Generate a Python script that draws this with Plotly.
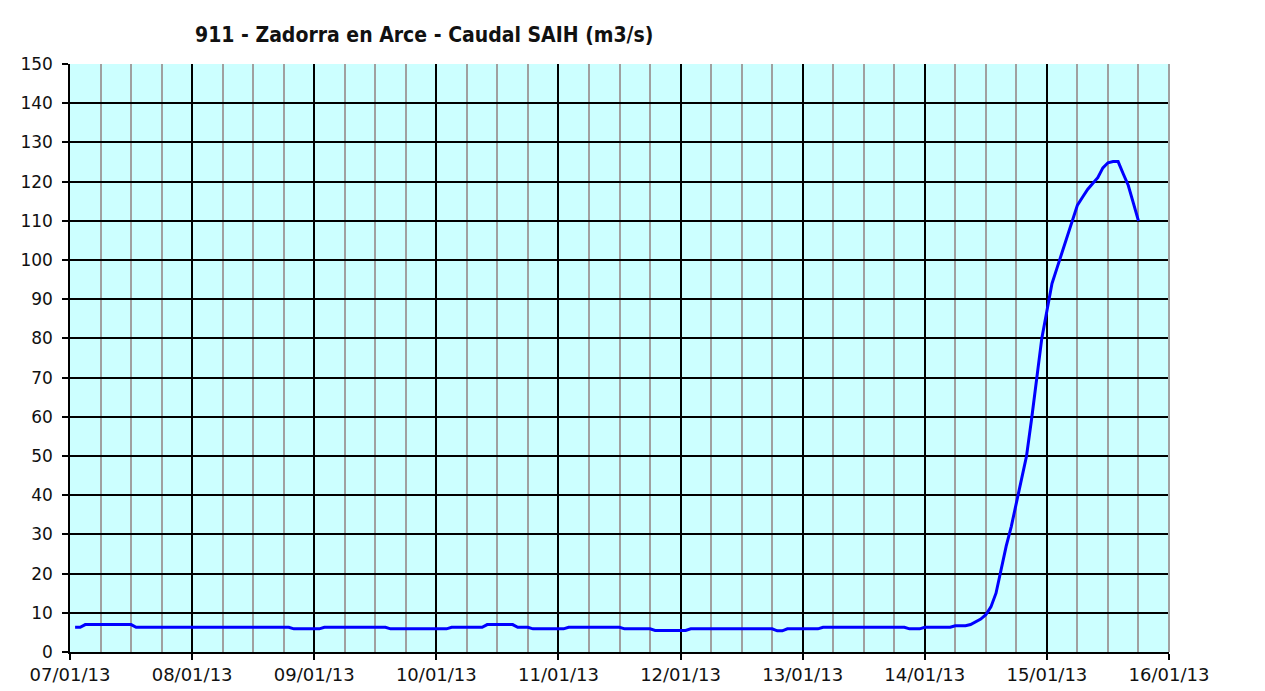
import plotly.graph_objects as go

# Caudal SAIH readings (date-time, m3/s)
times = [
    "2013-01-07 01:00", "2013-01-07 02:00", "2013-01-07 03:00", "2013-01-07 12:00",
    "2013-01-07 13:00", "2013-01-08 19:00", "2013-01-08 20:00", "2013-01-09 01:00",
    "2013-01-09 02:00", "2013-01-09 14:00", "2013-01-09 15:00", "2013-01-10 02:00",
    "2013-01-10 03:00", "2013-01-10 09:00", "2013-01-10 10:00", "2013-01-10 15:00",
    "2013-01-10 16:00", "2013-01-10 18:00", "2013-01-10 19:00", "2013-01-11 01:00",
    "2013-01-11 02:00", "2013-01-11 12:00", "2013-01-11 13:00", "2013-01-11 18:00",
    "2013-01-11 19:00", "2013-01-12 01:00", "2013-01-12 02:00", "2013-01-12 18:00",
    "2013-01-12 19:00", "2013-01-12 20:00", "2013-01-12 21:00", "2013-01-13 03:00",
    "2013-01-13 04:00", "2013-01-13 20:00", "2013-01-13 21:00", "2013-01-13 23:00",
    "2013-01-14 00:00", "2013-01-14 05:00", "2013-01-14 06:00", "2013-01-14 08:00",
    "2013-01-14 09:00", "2013-01-14 10:00", "2013-01-14 11:00", "2013-01-14 12:00",
    "2013-01-14 13:00", "2013-01-14 14:00", "2013-01-14 15:00", "2013-01-14 16:00",
    "2013-01-14 17:00", "2013-01-14 18:00", "2013-01-14 19:00", "2013-01-14 20:00",
    "2013-01-14 21:00", "2013-01-14 22:00", "2013-01-14 23:00", "2013-01-15 00:00",
    "2013-01-15 01:00", "2013-01-15 02:00", "2013-01-15 03:00", "2013-01-15 04:00",
    "2013-01-15 05:00", "2013-01-15 06:00", "2013-01-15 07:00", "2013-01-15 08:00",
    "2013-01-15 09:00", "2013-01-15 10:00", "2013-01-15 11:00", "2013-01-15 12:00",
    "2013-01-15 13:00", "2013-01-15 14:00", "2013-01-15 15:00", "2013-01-15 16:00",
    "2013-01-15 17:00", "2013-01-15 18:00",
]
caudal = [
    6.3, 6.3, 7.0, 7.0,
    6.3, 6.3, 5.9, 5.9,
    6.3, 6.3, 5.9, 5.9,
    6.3, 6.3, 7.0, 7.0,
    6.3, 6.3, 5.9, 5.9,
    6.3, 6.3, 5.9, 5.9,
    5.5, 5.5, 5.9, 5.9,
    5.4, 5.4, 5.9, 5.9,
    6.3, 6.3, 5.9, 5.9,
    6.3, 6.3, 6.7, 6.7,
    7.0, 7.6, 8.4, 9.5,
    11.5, 15.0, 21.0, 27.0,
    32.0, 38.0, 44.0, 50.0,
    59.5, 70.0, 80.0, 87.0,
    94.0, 98.0, 102.0, 106.0,
    110.0, 114.0, 116.0, 118.0,
    119.5, 121.0, 123.5, 124.8,
    125.1, 125.1, 122.0, 119.0,
    114.5, 110.0,
]

title_text = "911 - Zadorra en Arce - Caudal SAIH (m3/s)"
x_start, x_end = "2013-01-07", "2013-01-16"
y_min, y_max, y_step = 0, 150, 10

fig = go.Figure()
fig.add_trace(go.Scatter(
    x=times, y=caudal, mode="lines",
    line=dict(color="#0000FF", width=3),
    hoverinfo="x+y", showlegend=False,
))

W, H = 1265, 691
fig.update_layout(
    width=W, height=H,
    margin=dict(l=60, r=104, t=56, b=47),
    paper_bgcolor="white",
    plot_bgcolor="#CCFFFF",
    title=dict(
        text="<b>" + title_text + "</b>",
        xref="container", x=187 / W, xanchor="left",
        yref="container", y=1 - 27 / H, yanchor="middle",
        font=dict(family="DejaVu Sans Condensed, DejaVu Sans", size=21, color="#111111"),
    ),
    font=dict(family="DejaVu Sans", size=17, color="#111111"),
)

fig.update_xaxes(
    type="date",
    range=[x_start, x_end],
    dtick=86400000,
    tick0=x_start,
    tickformat="%d/%m/%y",
    showgrid=True, gridcolor="#000000", gridwidth=1.5,
    minor=dict(dtick=6 * 3600000, showgrid=True, gridcolor="#A0A0A0", gridwidth=2),
    showline=True, linecolor="#000000", linewidth=1.5,
    ticks="outside", ticklen=6, tickcolor="#000000", tickwidth=1.5,
    tickfont=dict(size=18, family="DejaVu Sans", color="#111111"),
    zeroline=False,
)
fig.update_yaxes(
    range=[y_min, y_max],
    dtick=y_step, tick0=0,
    showgrid=True, gridcolor="#000000", gridwidth=1.5,
    showline=True, linecolor="#000000", linewidth=1.5,
    ticks="outside", ticklen=6, tickcolor="#000000", tickwidth=1.5,
    ticklabelstandoff=6,
    tickfont=dict(size=17, family="DejaVu Sans", color="#111111"),
    zeroline=False,
)

# gray right border of plot area
fig.add_shape(type="line", xref="paper", yref="paper", x0=1, x1=1, y0=0, y1=1,
              line=dict(color="#A0A0A0", width=2))

fig.write_html("out.html")
